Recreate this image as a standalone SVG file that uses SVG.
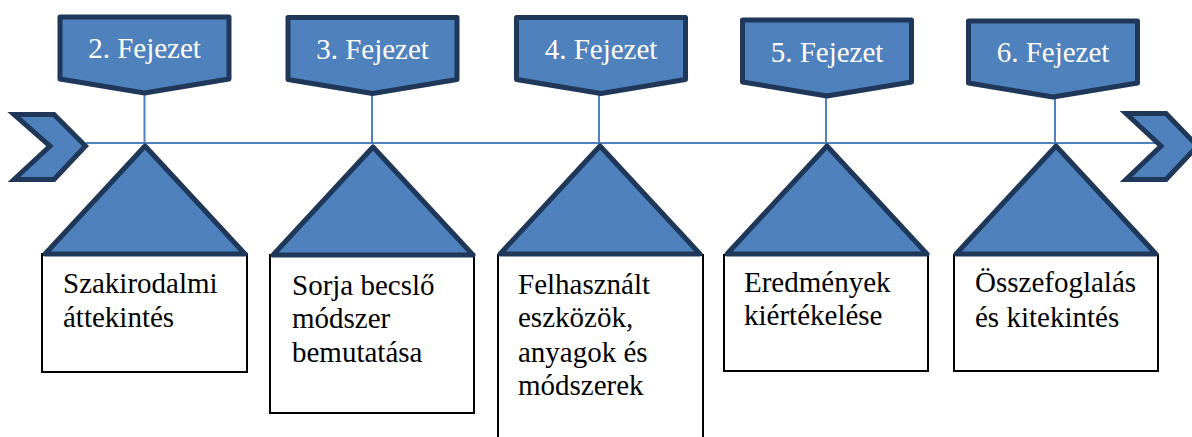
<svg xmlns="http://www.w3.org/2000/svg" width="1192" height="437" viewBox="0 0 1192 437">
  <style>
    .shape { fill: #4F81BD; stroke: #1F3859; stroke-width: 5; stroke-linejoin: round; }
    .chev { fill: #4F81BD; stroke: #1F3859; stroke-width: 5; stroke-linejoin: miter; }
    .box { fill: #FFFFFF; stroke: #000000; stroke-width: 2; }
    .conn { stroke: #4F81BD; stroke-width: 2; fill: none; }
    .head { font-family: 'Liberation Serif', 'DejaVu Serif', serif; font-size: 29px; fill: #FFFFFF; text-anchor: middle; }
    .body { font-family: 'Liberation Serif', 'DejaVu Serif', serif; font-size: 29px; fill: #000000; }
  </style>
  <defs>
    <path id="banner" d="M-84.5,0 L84.5,0 L84.5,62 L0,76 L-84.5,62 Z"/>
    <path id="tri" d="M0,146 L100,254 L-100,254 Z"/>
  </defs>

  <g id="connectors">
    <line class="conn" x1="86" y1="143" x2="1162" y2="143"/>
    <line class="conn" x1="144.5" y1="92" x2="144.5" y2="143"/>
    <line class="conn" x1="372" y1="92" x2="372" y2="143"/>
    <line class="conn" x1="599" y1="92" x2="599" y2="143"/>
    <line class="conn" x1="826" y1="95" x2="826" y2="143"/>
    <line class="conn" x1="1055" y1="96" x2="1055" y2="143"/>
  </g>

  <g id="chevron-left">
    <path class="chev" d="M14,114.5 L54,114.5 L85.5,146 L54,179.5 L14,179.5 L50,146 Z"/>
  </g>
  <g id="chevron-right">
    <path class="chev" d="M1126,113.5 L1166,113.5 L1197.5,146 L1166,179.5 L1126,179.5 L1161,146 Z"/>
  </g>

  <g id="banner-2">
    <use href="#banner" class="shape" transform="translate(144.5,17)"/>
    <text class="head" font-family="Liberation Serif" x="144.5" y="58">2. Fejezet</text>
  </g>
  <g id="banner-3">
    <use href="#banner" class="shape" transform="translate(372.5,17.5)"/>
    <text class="head" font-family="Liberation Serif" x="372.5" y="58.5">3. Fejezet</text>
  </g>
  <g id="banner-4">
    <use href="#banner" class="shape" transform="translate(601,17.5)"/>
    <text class="head" font-family="Liberation Serif" x="601" y="58.5">4. Fejezet</text>
  </g>
  <g id="banner-5">
    <use href="#banner" class="shape" transform="translate(827,20)"/>
    <text class="head" font-family="Liberation Serif" x="827" y="62">5. Fejezet</text>
  </g>
  <g id="banner-6">
    <use href="#banner" class="shape" transform="translate(1053,21)"/>
    <text class="head" font-family="Liberation Serif" x="1053" y="62">6. Fejezet</text>
  </g>

  <g id="node-2">
    <rect class="box" x="42" y="254" width="205" height="118"/>
    <use href="#tri" class="shape" transform="translate(145,0)"/>
    <text class="body" x="63" y="293">Szakirodalmi</text>
    <text class="body" x="63" y="327">áttekintés</text>
  </g>
  <g id="node-3">
    <rect class="box" x="270" y="255" width="204" height="158"/>
    <use href="#tri" class="shape" transform="translate(373,1)"/>
    <text class="body" x="292" y="295">Sorja becslő</text>
    <text class="body" x="292" y="328">módszer</text>
    <text class="body" x="292" y="362">bemutatása</text>
  </g>
  <g id="node-4">
    <rect class="box" x="498" y="255" width="205" height="200"/>
    <use href="#tri" class="shape" transform="translate(600,0)"/>
    <text class="body" x="518" y="294">Felhasznált</text>
    <text class="body" x="518" y="327">eszközök,</text>
    <text class="body" x="518" y="362">anyagok és</text>
    <text class="body" x="518" y="395">módszerek</text>
  </g>
  <g id="node-5">
    <rect class="box" x="724" y="255" width="204" height="116"/>
    <use href="#tri" class="shape" transform="translate(827,0)"/>
    <text class="body" x="744" y="292">Eredmények</text>
    <text class="body" x="744" y="325">kiértékelése</text>
  </g>
  <g id="node-6">
    <rect class="box" x="954" y="255" width="204" height="116"/>
    <use href="#tri" class="shape" transform="translate(1056,0)"/>
    <text class="body" x="975" y="292">Összefoglalás</text>
    <text class="body" x="975" y="327">és kitekintés</text>
  </g>
</svg>
